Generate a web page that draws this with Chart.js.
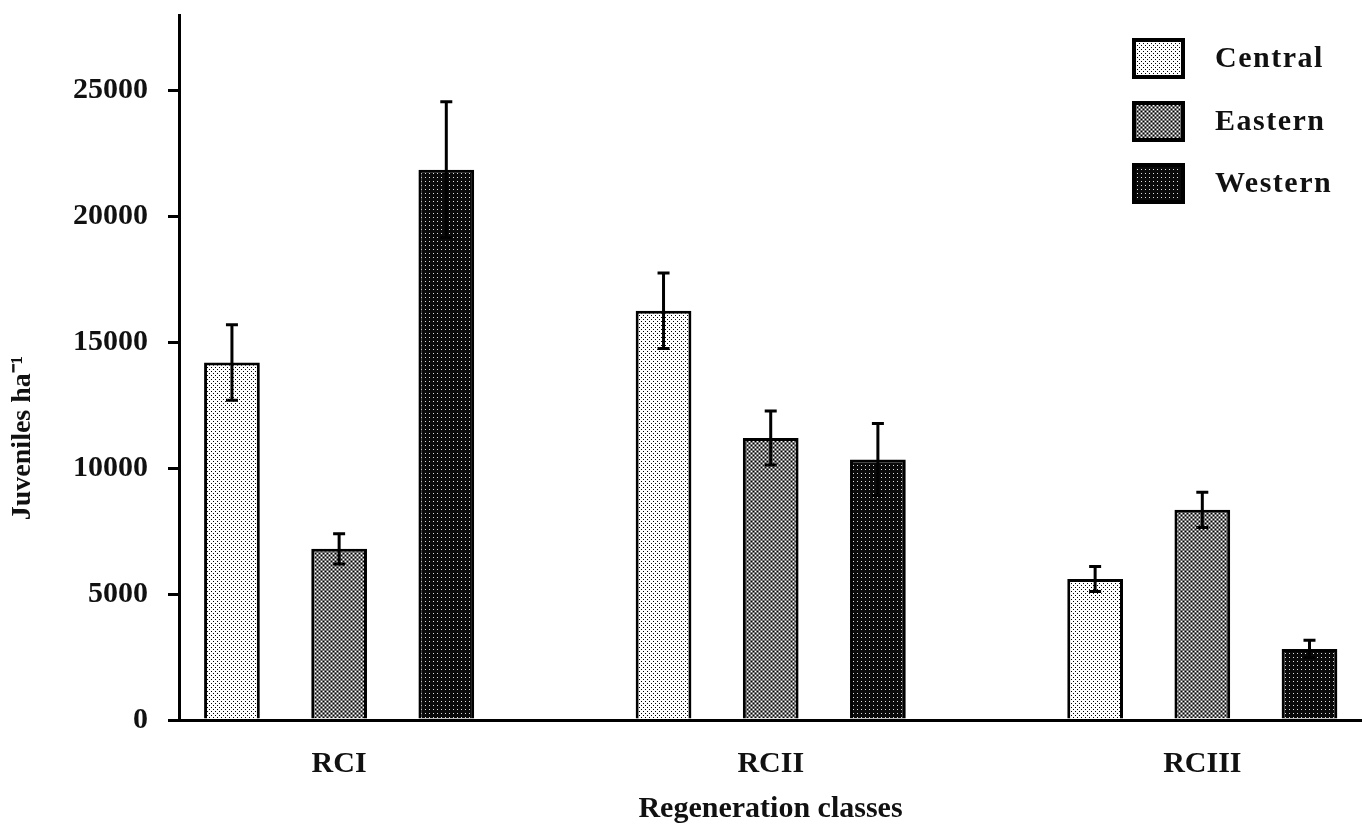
<!DOCTYPE html>
<html lang="en">

<head>
    <meta charset="UTF-8">
    <title>Juveniles ha-1 by regeneration class</title>
    <script src="https://cdn.jsdelivr.net/npm/chart.js"></script>
    <style>
        body { margin: 0; background: #fff; overflow: hidden; }
        .grafico { position: relative; width: 1362px; height: 829px; }
    </style>
</head>

<body>
    <div class="grafico">
        <canvas id="grafico-barra"></canvas>
    </div>
</body>

</html>

<script>

    // dados
    const classes = ['RCI', 'RCII', 'RCIII'];
    const regioes = ['Central', 'Eastern', 'Western'];
    const central = [14200, 16250, 5600];
    const eastern = [6800, 11200, 8350];
    const western = [21850, 10350, 2820];
    const centralErro = [1500, 1500, 500];
    const easternErro = [600, 1070, 700];
    const westernErro = [2700, 1430, 350];
    const yTicks = [0, 5000, 10000, 15000, 20000, 25000];

    const fonte = 'Liberation Serif, Times New Roman, serif';

    // padroes de preenchimento (pontilhados)
    function padrao(fundo, pontos) {
        const c = document.createElement('canvas');
        c.width = 4;
        c.height = 4;
        const g = c.getContext('2d');
        g.fillStyle = fundo;
        g.fillRect(0, 0, 4, 4);
        pontos.forEach(p => {
            g.fillStyle = p[2];
            g.fillRect(p[0], p[1], 1, 1);
        });
        return g.createPattern(c, 'repeat');
    }

    const padraoCentral = padrao('#ffffff', [[1, 1, '#000'], [3, 3, '#000']]);
    const padraoEastern = padrao('#777777', [[1, 1, '#fff'], [3, 3, '#fff'], [1, 3, '#000'], [3, 1, '#000']]);
    const padraoWestern = padrao('#0a0a0a', [[1, 1, '#ddd']]);
    const padroes = [padraoCentral, padraoEastern, padraoWestern];

    function serie(valores) {
        return valores.map((v, i) => ({ x: i, y: v }));
    }

    // barras de erro
    const barrasErro = {
        id: 'barrasErro',
        afterDatasetsDraw(chart) {
            const ctx = chart.ctx;
            const y = chart.scales.y;
            ctx.save();
            ctx.strokeStyle = '#000';
            ctx.lineWidth = 3;
            chart.data.datasets.forEach((ds, di) => {
                const meta = chart.getDatasetMeta(di);
                meta.data.forEach((barra, i) => {
                    const v = ds.data[i].y;
                    const e = ds.erros[i];
                    const topo = y.getPixelForValue(v + e);
                    const base = y.getPixelForValue(v - e);
                    ctx.beginPath();
                    ctx.moveTo(barra.x, topo);
                    ctx.lineTo(barra.x, base);
                    ctx.moveTo(barra.x - 6, topo);
                    ctx.lineTo(barra.x + 6, topo);
                    ctx.moveTo(barra.x - 6, base);
                    ctx.lineTo(barra.x + 6, base);
                    ctx.stroke();
                });
            });
            ctx.restore();
        }
    };

    // legenda e titulo do eixo y
    const legendaCustom = {
        id: 'legendaCustom',
        afterDraw(chart) {
            const ctx = chart.ctx;
            ctx.save();
            const tops = [38, 101, 163];
            regioes.forEach((nome, i) => {
                ctx.fillStyle = padroes[i];
                ctx.fillRect(1132, tops[i], 53, 41);
                ctx.strokeStyle = '#000';
                ctx.lineWidth = 4;
                ctx.strokeRect(1134, tops[i] + 2, 49, 37);
                ctx.fillStyle = '#111';
                ctx.font = 'bold 30px ' + fonte;
                ctx.letterSpacing = '1.5px';
                ctx.textAlign = 'left';
                ctx.textBaseline = 'middle';
                ctx.fillText(nome, 1215, tops[i] + 21);
            });

            ctx.translate(23, 438);
            ctx.rotate(-Math.PI / 2);
            ctx.letterSpacing = '0px';
            ctx.textAlign = 'center';
            ctx.textBaseline = 'middle';
            ctx.font = 'bold 28px ' + fonte;
            ctx.fillText('Juveniles ha\u207B\u00B9', 0, 0);
            ctx.restore();
        }
    };

    const ctx = document.getElementById('grafico-barra').getContext('2d');

    new Chart(ctx, {
        type: 'bar',
        data: {
            datasets: [
                { label: regioes[0], data: serie(central), erros: centralErro, backgroundColor: padraoCentral },
                { label: regioes[1], data: serie(eastern), erros: easternErro, backgroundColor: padraoEastern },
                { label: regioes[2], data: serie(western), erros: westernErro, backgroundColor: padraoWestern }
            ]
        },
        options: {
            responsive: true,
            maintainAspectRatio: false,
            animation: false,
            layout: { padding: { top: 15, right: 0 } },
            datasets: {
                bar: {
                    borderColor: '#000',
                    borderWidth: 3,
                    categoryPercentage: 0.745,
                    barPercentage: 0.52
                }
            },
            plugins: {
                legend: { display: false },
                tooltip: { enabled: false }
            },
            scales: {
                x: {
                    type: 'linear',
                    offset: false,
                    min: -0.371,
                    max: 2.37,
                    afterBuildTicks: (s) => { s.ticks = classes.map((c, i) => ({ value: i })); },
                    afterFit: (s) => { s.height = 109; },
                    grid: { display: false, drawTicks: false },
                    border: { display: true, color: '#000', width: 3 },
                    ticks: {
                        padding: 26,
                        color: '#111',
                        font: { family: fonte, size: 30, weight: 'bold' },
                        callback: (v) => classes[v]
                    },
                    title: {
                        display: true,
                        text: 'Regeneration classes',
                        color: '#111',
                        padding: { top: 0, bottom: 2 },
                        font: { family: fonte, size: 30, weight: 'bold' }
                    }
                },
                y: {
                    min: 0,
                    max: 28000,
                    afterBuildTicks: (s) => { s.ticks = yTicks.map(v => ({ value: v })); },
                    afterFit: (s) => {
                        s.width = 179;
                        s.paddingTop = 0;
                        s.paddingBottom = 0;
                    },
                    grid: {
                        drawOnChartArea: false,
                        drawTicks: true,
                        tickLength: 11,
                        color: '#000',
                        lineWidth: 3
                    },
                    border: { display: true, color: '#000', width: 3 },
                    ticks: {
                        padding: 20,
                        color: '#111',
                        font: { family: fonte, size: 30, weight: 'bold' },
                        callback: (v) => String(v)
                    }
                }
            }
        },
        plugins: [barrasErro, legendaCustom]
    });

</script>
